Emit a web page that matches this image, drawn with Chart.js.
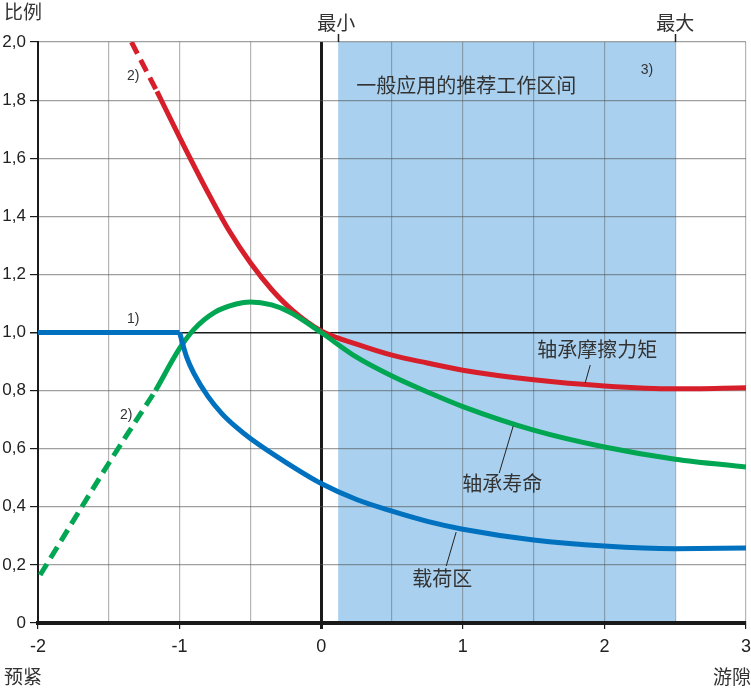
<!DOCTYPE html>
<html>
<head>
<meta charset="utf-8">
<script src="https://cdn.jsdelivr.net/npm/chart.js@4/dist/chart.umd.min.js"></script>
<style>
html,body{margin:0;padding:0;background:#fff;}
canvas{display:block;}
</style>
</head>
<body>
<canvas id="c" width="751" height="688"></canvas>
<script>
// ---- data ----
const frictionDashX = [-1.34, -1.16];
const frictionDashY = [2.0, 1.83];
const frictionX = [-1.16, -1.0, -0.8, -0.65, -0.5, -0.35, -0.2, 0, 0.25, 0.5, 0.75, 1.0, 1.5, 2.0, 2.5, 3.0];
const frictionY = [1.83, 1.672, 1.482, 1.35, 1.24, 1.148, 1.075, 1.005, 0.96, 0.922, 0.895, 0.87, 0.837, 0.816, 0.806, 0.81];

const lifeDashX = [-1.985, -1.5, -1.17];
const lifeDashY = [0.165, 0.55, 0.80];
const lifeX = [-1.17, -1.0, -0.9, -0.75, -0.6, -0.5, -0.35, -0.22, 0, 0.25, 0.5, 0.75, 1.0, 1.5, 2.0, 2.5, 3.0];
const lifeY = [0.80, 0.945, 1.01, 1.07, 1.098, 1.105, 1.095, 1.07, 1.0, 0.915, 0.85, 0.795, 0.745, 0.664, 0.606, 0.564, 0.537];

const loadFlatX = [-2.0, -1.0];
const loadFlatY = [1.0, 1.0];
const loadX = [-1.0, -0.95, -0.9, -0.8, -0.7, -0.6, -0.5, -0.25, 0, 0.25, 0.5, 0.75, 1.0, 1.5, 2.0, 2.5, 3.0];
const loadY = [1.0, 0.915, 0.86, 0.78, 0.72, 0.674, 0.635, 0.553, 0.48, 0.425, 0.385, 0.35, 0.323, 0.286, 0.265, 0.256, 0.258];

const bandStart = 0.12;   // 最小
const bandEnd = 2.5;      // 最大

const xTickLabels = {'-2':'-2','-1':'-1','0':'0','1':'1','2':'2','3':'3'};
const yTickLabels = ['0','0,2','0,4','0,6','0,8','1,0','1,2','1,4','1,6','1,8','2,0'];

const seriesNames = ['轴承摩擦力矩', '轴承寿命', '载荷区'];
const bandLabel = '一般应用的推荐工作区间';

// ---- annotation placement (data units) ----
const notes = [
  {t: bandLabel, x: 1.024, y: 1.852, size: 20},
  {t: seriesNames[0], x: 1.95, y: 0.943, size: 20},
  {t: seriesNames[1], x: 1.278, y: 0.482, size: 20},
  {t: seriesNames[2], x: 0.855, y: 0.155, size: 20},
  {t: '3)', x: 2.30, y: 1.904, size: 14},
  {t: '2)', x: -1.328, y: 1.883, size: 14},
  {t: '2)', x: -1.377, y: 0.716, size: 14},
  {t: '1)', x: -1.328, y: 1.046, size: 14}
];
const leaders = [
  [1.90, 0.888, 1.864, 0.826],
  [1.257, 0.516, 1.356, 0.678],
  [0.883, 0.196, 0.953, 0.313]
];

const RED = '#d71f2b', GREEN = '#00a651', BLUE = '#0071bf', BAND = '#a9d1ef';
const FONT = '"Liberation Sans", Arial, sans-serif';
const CJK = '"Noto Sans CJK SC", sans-serif';

const pts = (xs, ys) => xs.map((x, i) => ({x: x, y: ys[i]}));

const decor = {
  id: 'decor',
  beforeDraw(chart) {
    const {ctx, chartArea: a, scales: {x, y}} = chart;
    ctx.save();
    ctx.fillStyle = '#fff';
    ctx.fillRect(0, 0, chart.width, chart.height);
    const x0 = x.getPixelForValue(bandStart), x1 = x.getPixelForValue(bandEnd);
    ctx.fillStyle = BAND;
    ctx.fillRect(x0, a.top, x1 - x0, a.bottom - a.top);
    ctx.restore();
  },
  afterDraw(chart) {
    const {ctx, chartArea: a, scales: {x, y}} = chart;
    ctx.save();
    // top markers
    ctx.strokeStyle = '#222';
    ctx.lineWidth = 1.5;
    [bandStart, bandEnd].forEach(v => {
      const px = Math.round(x.getPixelForValue(v)) + 0.5;
      ctx.beginPath(); ctx.moveTo(px, a.top - 8); ctx.lineTo(px, a.top); ctx.stroke();
    });
    ctx.fillStyle = '#333';
    ctx.font = '19px ' + CJK;
    ctx.textAlign = 'center'; ctx.textBaseline = 'middle';
    ctx.fillText('最小', x.getPixelForValue(bandStart) - 2, 23);
    ctx.fillText('最大', x.getPixelForValue(bandEnd), 23);
    // axis titles
    ctx.textAlign = 'left';
    ctx.fillText('比例', 4, 12);
    ctx.fillText('预紧', 4, 677);
    ctx.textAlign = 'right';
    ctx.fillText('游隙', 751, 677);
    // leader lines
    ctx.strokeStyle = '#222';
    ctx.lineWidth = 1;
    leaders.forEach(l => {
      ctx.beginPath();
      ctx.moveTo(x.getPixelForValue(l[0]), y.getPixelForValue(l[1]));
      ctx.lineTo(x.getPixelForValue(l[2]), y.getPixelForValue(l[3]));
      ctx.stroke();
    });
    // notes
    ctx.textAlign = 'center'; ctx.textBaseline = 'middle';
    notes.forEach(n => {
      ctx.font = n.size + 'px ' + (n.size > 15 ? CJK : FONT);
      ctx.fillStyle = '#333';
      ctx.fillText(n.t, x.getPixelForValue(n.x), y.getPixelForValue(n.y));
    });
    ctx.restore();
  }
};

const lineDs = (label, data, color, dashed) => ({
  label, data,
  borderColor: color, backgroundColor: color,
  borderWidth: 5,
  borderDash: dashed ? [13, 7] : [],
  pointRadius: 0,
  cubicInterpolationMode: 'monotone',
  fill: false,
  borderCapStyle: 'butt',
  borderJoinStyle: 'round'
});

new Chart(document.getElementById('c'), {
  type: 'line',
  data: {
    datasets: [
      lineDs(seriesNames[2], pts(loadFlatX, loadFlatY), BLUE, false),
      lineDs(seriesNames[2], pts(loadX, loadY), BLUE, false),
      lineDs(seriesNames[1], pts(lifeX, lifeY), GREEN, false),
      lineDs(seriesNames[1] + ' 2)', pts(lifeDashX, lifeDashY), GREEN, true),
      lineDs(seriesNames[0], pts(frictionX, frictionY), RED, false),
      lineDs(seriesNames[0] + ' 2)', pts(frictionDashX, frictionDashY), RED, true)
    ]
  },
  options: {
    responsive: false,
    animation: false,
    events: [],
    layout: {padding: {top: 42, right: 0, left: 0, bottom: 0}},
    plugins: {legend: {display: false}, tooltip: {enabled: false}},
    scales: {
      x: {
        type: 'linear', min: -2, max: 3,
        afterFit(s) { s.height = 65; s.paddingRight = 5; },
        border: {display: true, color: '#1a1a1a', width: 4},
        grid: {
          color: c => c.tick && c.tick.value === 0 ? '#1a1a1a' : 'rgba(90,90,90,0.45)',
          lineWidth: c => c.tick && c.tick.value === 0 ? 3 : 1.2,
          tickColor: c => c.tick && Number.isInteger(c.tick.value) ? '#1a1a1a' : 'rgba(0,0,0,0)',
          tickLength: 6,
          drawTicks: true
        },
        ticks: {
          stepSize: 0.5,
          autoSkip: false,
          maxRotation: 0,
          padding: 7,
          color: '#222',
          font: {family: FONT, size: 18},
          callback: v => xTickLabels[String(v)] || ''
        }
      },
      y: {
        min: 0, max: 2,
        afterFit(s) { s.width = 38; },
        border: {display: true, color: '#1a1a1a', width: 2},
        grid: {
          color: c => c.tick && Math.abs(c.tick.value - 1) < 1e-9 ? '#1a1a1a' : 'rgba(80,80,80,0.55)',
          lineWidth: c => c.tick && Math.abs(c.tick.value - 1) < 1e-9 ? 1.5 : 1.2,
          tickColor: '#1a1a1a',
          tickLength: 8
        },
        ticks: {
          stepSize: 0.2,
          autoSkip: false,
          padding: 4,
          color: '#222',
          font: {family: FONT, size: 17},
          callback: (v, i) => yTickLabels[Math.round(v * 5)]
        }
      }
    }
  },
  plugins: [decor]
});
</script>
</body>
</html>
